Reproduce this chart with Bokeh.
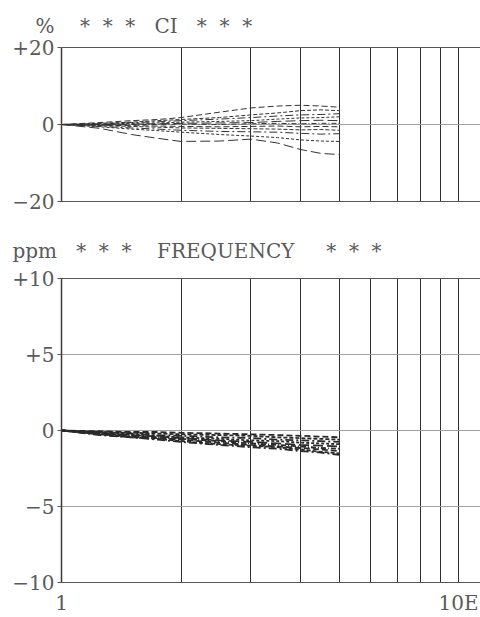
from bokeh.plotting import figure
from bokeh.models import FixedTicker, LogAxis, Range1d
from bokeh.layouts import column
from bokeh.embed import file_html
from bokeh.resources import INLINE

# ---- data -------------------------------------------------------------
x_freq = [1, 1.25, 1.5, 1.75, 2, 2.5, 3, 3.5, 4, 4.5, 5]

ci_a = [0, 0.5, 1.0, 1.3, 1.8, 3.2, 4.3, 4.8, 5.0, 4.8, 4.5]
ci_b = [0, 0.3, 0.6, 1.0, 1.3, 1.8, 2.5, 3.0, 3.6, 3.8, 3.6]
ci_c = [0, 0.2, 0.5, 0.7, 1.0, 1.4, 1.8, 2.2, 2.5, 2.6, 2.8]
ci_d = [0, 0.1, 0.3, 0.4, 0.6, 0.8, 1.0, 1.4, 1.7, 1.8, 2.0]
ci_e = [0, 0.0, 0.1, 0.2, 0.3, 0.4, 0.5, 0.8, 1.0, 1.1, 1.0]
ci_f = [0, -0.1, 0.0, 0.0, 0.1, 0.0, 0.2, 0.3, 0.2, 0.3, 0.3]
ci_g = [0, -0.2, -0.3, -0.4, -0.5, -0.6, -0.5, -0.4, -0.6, -0.5, -0.6]
ci_h = [0, -0.3, -0.5, -0.7, -0.9, -1.0, -1.1, -1.2, -1.4, -1.3, -1.5]
ci_i = [0, -0.5, -0.9, -1.2, -1.5, -1.8, -1.9, -2.0, -2.3, -2.5, -2.4]
ci_j = [0, -0.6, -1.2, -1.6, -2.0, -2.6, -3.0, -3.4, -4.0, -4.3, -4.4]
ci_k = [0, -1.0, -2.6, -3.6, -4.4, -4.3, -3.8, -4.8, -6.5, -7.5, -7.8]

freq_a = [0, -0.05, -0.10, -0.10, -0.15, -0.20, -0.25, -0.30, -0.35, -0.40, -0.45]
freq_b = [0, -0.10, -0.15, -0.20, -0.25, -0.30, -0.35, -0.45, -0.50, -0.55, -0.60]
freq_c = [0, -0.10, -0.20, -0.30, -0.35, -0.45, -0.50, -0.60, -0.65, -0.70, -0.75]
freq_d = [0, -0.15, -0.25, -0.35, -0.45, -0.55, -0.65, -0.70, -0.80, -0.85, -0.90]
freq_e = [0, -0.20, -0.30, -0.40, -0.50, -0.65, -0.75, -0.85, -0.95, -1.00, -1.05]
freq_f = [0, -0.20, -0.35, -0.45, -0.55, -0.70, -0.85, -0.95, -1.05, -1.15, -1.20]
freq_g = [0, -0.25, -0.40, -0.50, -0.60, -0.80, -0.95, -1.05, -1.15, -1.25, -1.35]
freq_h = [0, -0.25, -0.45, -0.55, -0.70, -0.90, -1.00, -1.10, -1.25, -1.40, -1.50]
freq_i = [0, -0.30, -0.45, -0.60, -0.75, -0.95, -1.10, -1.20, -1.35, -1.45, -1.60]

ci_ticks = [-20, 0, 20]
ci_tick_labels = {-20: "\u221220", 0: "0", 20: "+20"}
freq_ticks = [-10, -5, 0, 5, 10]
freq_tick_labels = {-10: "\u221210", -5: "\u22125", 0: "0", 5: "+5", 10: "+10"}
x_tick_values = [1, 10]
x_tick_labels = {1: "1", 10: "10E"}
grid_decade = [2, 3, 4, 5, 6, 7, 8, 9, 10]

NB = "\u00a0"
ci_title = "%" + NB * 4 + ("*" + NB * 2) * 2 + "*" + NB * 3 + "CI" + NB * 3 + ("*" + NB * 2) * 2 + "*"
freq_title = "ppm" + NB * 3 + ("*" + NB * 2) * 2 + "*" + NB * 4 + "FREQUENCY" + NB * 5 + ("*" + NB * 2) * 2 + "*"

# ---- styling ----------------------------------------------------------
FONT = "DejaVu Serif"
TXT = "#5a5a5a"
DASHES = ["6 3", "4 2", "8 3 2 3", "3 2", "10 4", "5 2 1 2"]


def make_panel(height, y_lo, y_hi, yticks, ylabels, hgrid, title, title_offset,
               title_standoff, min_top, min_bottom, show_x_labels):
    p = figure(width=480, height=height, x_axis_type="log",
               x_range=Range1d(1, 11.36), y_range=Range1d(y_lo, y_hi),
               output_backend="svg", toolbar_location=None,
               min_border_left=61, min_border_right=0,
               min_border_top=min_top, min_border_bottom=min_bottom,
               background_fill_color="white", border_fill_color="white")
    p.outline_line_color = None

    p.title.text = title
    p.title.align = "left"
    p.title.offset = title_offset
    p.title.text_font = FONT
    p.title.text_font_size = "20px"
    p.title.text_font_style = "normal"
    p.title.text_color = TXT
    p.title.standoff = title_standoff

    # y axis
    p.yaxis.ticker = FixedTicker(ticks=yticks)
    p.yaxis.major_label_overrides = ylabels
    p.yaxis.major_label_text_font = FONT
    p.yaxis.major_label_text_font_size = "20px"
    p.yaxis.major_label_text_color = TXT
    p.yaxis.major_tick_in = 0
    p.yaxis.major_tick_out = 4
    p.yaxis.major_tick_line_color = "#555555"
    p.yaxis.minor_tick_line_color = None
    p.yaxis.major_label_standoff = 3
    p.yaxis.axis_line_color = "#3a3a3a"
    p.yaxis.axis_line_width = 1.5

    # x axis
    p.xaxis.ticker = FixedTicker(ticks=x_tick_values if show_x_labels else [])
    p.xaxis.major_label_overrides = x_tick_labels
    p.xaxis.major_label_text_font = FONT
    p.xaxis.major_label_text_font_size = "20px" if show_x_labels else "0px"
    p.xaxis.major_label_text_color = TXT
    p.xaxis.major_tick_line_color = None
    p.xaxis.minor_tick_line_color = None
    p.xaxis.major_tick_in = 0
    p.xaxis.major_tick_out = 0
    p.xaxis.minor_tick_in = 0
    p.xaxis.minor_tick_out = 0
    p.xaxis.axis_label_standoff = 0
    p.xaxis.major_label_standoff = 8
    p.xaxis.axis_line_color = "#555555"
    p.xaxis.axis_line_width = 1.2

    top = LogAxis(ticker=FixedTicker(ticks=[]), major_label_text_font_size="0px",
                  major_tick_line_color=None, minor_tick_line_color=None,
                  major_label_standoff=0, axis_label_standoff=0,
                  axis_line_color="#555555", axis_line_width=1.2)
    p.add_layout(top, "above")

    p.xgrid.ticker = FixedTicker(ticks=grid_decade)
    p.xgrid.grid_line_color = "#2e2e2e"
    p.xgrid.grid_line_width = 1
    p.ygrid.ticker = FixedTicker(ticks=hgrid)
    p.ygrid.grid_line_color = "#a0a0a0"
    p.ygrid.grid_line_width = 1
    return p


p1 = make_panel(220, -20, 20, ci_ticks, ci_tick_labels, [0], ci_title, -26, 20, 47, 19, False)
for i, ys in enumerate([ci_a, ci_b, ci_c, ci_d, ci_e, ci_f, ci_g, ci_h, ci_i, ci_j, ci_k]):
    p1.line(x_freq, ys, line_color="#333333", line_width=1, line_dash=DASHES[i % len(DASHES)])

p2 = make_panel(397, -10, 10, freq_ticks, freq_tick_labels, [-5, 0, 5], freq_title, -49, 31, 58, 34, True)
for i, ys in enumerate([freq_a, freq_b, freq_c, freq_d, freq_e, freq_f, freq_g, freq_h, freq_i]):
    p2.line(x_freq, ys, line_color="#2a2a2a", line_width=1.8, line_dash=DASHES[i % len(DASHES)])

layout = column(p1, p2, spacing=0)
open("out.html", "w").write(file_html(layout, INLINE))
